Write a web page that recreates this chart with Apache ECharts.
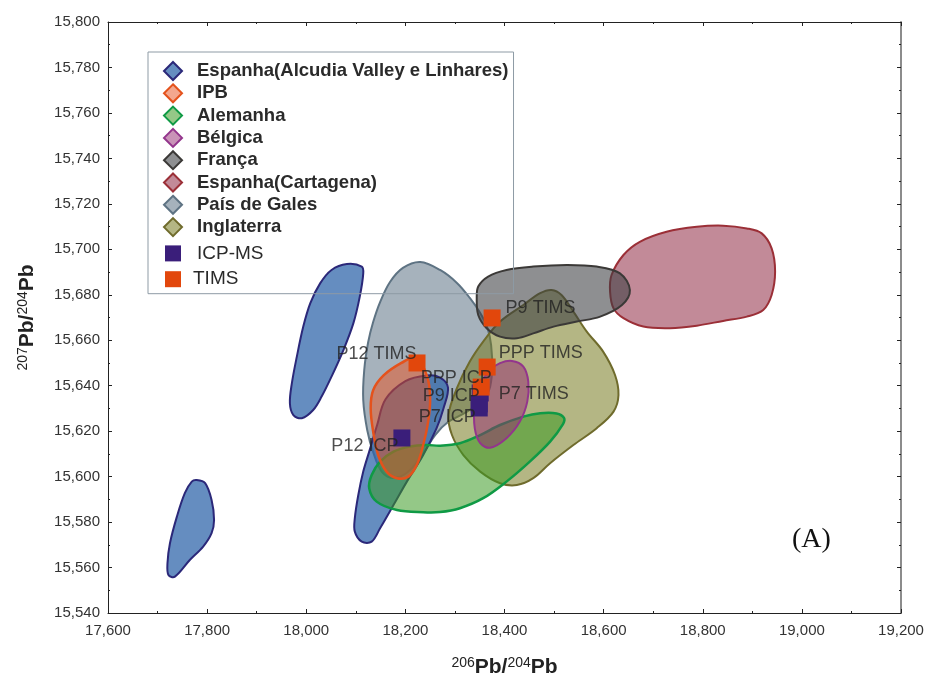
<!DOCTYPE html>
<html>
<head>
<meta charset="utf-8">
<script src="https://cdn.jsdelivr.net/npm/echarts@6/dist/echarts.min.js"></script>
<style>
html,body{margin:0;padding:0;background:#fff;}
#chart{width:927px;height:684px;}
</style>
</head>
<body>
<div id="chart"></div>
<script>
// ---------- DATA (206Pb/204Pb, 207Pb/204Pb) ----------
const xMin = 17.6, xMax = 19.2, xStep = 0.2;
const yMin = 15.54, yMax = 15.80, yStep = 0.02;

// Espanha (Alcudia Valley e Linhares) - three fields
const espanhaAlcudiaA = [[18.082,15.6935],[18.112,15.6924],[18.115,15.6894],[18.108,15.6792],[18.095,15.6674],[18.075,15.6557],[18.051,15.6440],[18.031,15.6352],[18.014,15.6293],[17.991,15.6257],[17.974,15.6271],[17.967,15.6323],[17.971,15.6411],[17.981,15.6528],[17.994,15.6660],[18.008,15.6762],[18.028,15.6850],[18.051,15.6909]];
const espanhaAlcudiaB = [[17.779,15.5985],[17.796,15.5971],[17.809,15.5897],[17.814,15.5809],[17.809,15.5751],[17.792,15.5692],[17.765,15.5633],[17.735,15.5560],[17.722,15.5567],[17.720,15.5619],[17.725,15.5707],[17.739,15.5824],[17.755,15.5927],[17.769,15.5978]];
const espanhaAlcudiaC = [[18.270,15.6436],[18.286,15.6392],[18.277,15.6301],[18.263,15.6213],[18.236,15.6095],[18.203,15.5978],[18.176,15.5875],[18.149,15.5773],[18.132,15.5714],[18.112,15.5714],[18.098,15.5758],[18.098,15.5817],[18.105,15.5919],[18.115,15.6022],[18.127,15.6110],[18.143,15.6227],[18.160,15.6340],[18.200,15.6420],[18.243,15.6445]];
const ipb = [[18.222,15.6525],[18.244,15.6440],[18.250,15.6345],[18.246,15.6242],[18.236,15.6139],[18.223,15.6051],[18.206,15.6000],[18.183,15.5993],[18.162,15.6022],[18.145,15.6095],[18.135,15.6198],[18.130,15.6301],[18.135,15.6380],[18.156,15.6445],[18.192,15.6500]];
const alemanha = [[18.243,15.6139],[18.270,15.6136],[18.310,15.6147],[18.351,15.6183],[18.391,15.6227],[18.438,15.6264],[18.472,15.6279],[18.505,15.6278],[18.520,15.6258],[18.518,15.6231],[18.492,15.6154],[18.451,15.6066],[18.404,15.5978],[18.357,15.5905],[18.310,15.5861],[18.270,15.5844],[18.236,15.5843],[18.183,15.5853],[18.142,15.5890],[18.127,15.5949],[18.132,15.6007],[18.149,15.6066],[18.176,15.6110],[18.209,15.6132]];
const belgica = [[18.415,15.6509],[18.438,15.6484],[18.448,15.6418],[18.446,15.6330],[18.431,15.6242],[18.404,15.6169],[18.371,15.6127],[18.351,15.6147],[18.340,15.6213],[18.340,15.6315],[18.351,15.6403],[18.371,15.6469],[18.391,15.6499]];
const franca = [[18.344,15.6784],[18.347,15.6836],[18.367,15.6880],[18.404,15.6909],[18.458,15.6924],[18.526,15.6931],[18.586,15.6924],[18.633,15.6894],[18.653,15.6821],[18.637,15.6755],[18.593,15.6704],[18.546,15.6682],[18.499,15.6660],[18.458,15.6630],[18.425,15.6609],[18.391,15.6616],[18.364,15.6653],[18.347,15.6711]];
const espanhaCartagena = [[18.613,15.6814],[18.616,15.6887],[18.640,15.6975],[18.673,15.7033],[18.727,15.7077],[18.788,15.7099],[18.841,15.7104],[18.889,15.7092],[18.919,15.7070],[18.939,15.7004],[18.946,15.6902],[18.939,15.6799],[18.922,15.6733],[18.889,15.6704],[18.841,15.6685],[18.788,15.6664],[18.734,15.6653],[18.680,15.6660],[18.640,15.6697],[18.620,15.6740]];
const paisDeGales = [[18.230,15.6944],[18.270,15.6909],[18.304,15.6852],[18.330,15.6786],[18.351,15.6720],[18.365,15.6658],[18.373,15.6579],[18.375,15.6469],[18.369,15.6381],[18.351,15.6328],[18.320,15.6280],[18.286,15.6240],[18.260,15.6183],[18.234,15.6095],[18.205,15.6020],[18.177,15.5994],[18.153,15.6020],[18.135,15.6108],[18.123,15.6205],[18.115,15.6337],[18.117,15.6469],[18.125,15.6592],[18.135,15.6680],[18.149,15.6768],[18.169,15.6856],[18.195,15.6918]];
const inglaterra = [[18.495,15.6821],[18.515,15.6799],[18.539,15.6726],[18.566,15.6638],[18.599,15.6550],[18.623,15.6447],[18.630,15.6359],[18.620,15.6286],[18.586,15.6213],[18.539,15.6139],[18.492,15.6059],[18.458,15.5993],[18.425,15.5963],[18.391,15.5971],[18.351,15.6022],[18.317,15.6095],[18.294,15.6183],[18.287,15.6271],[18.304,15.6389],[18.330,15.6506],[18.357,15.6594],[18.391,15.6682],[18.438,15.6755],[18.472,15.6807]];

// Samples
const icpNames = ['P12 ICP', 'PPP ICP', 'P9 ICP', 'P7 ICP'];
const icpX = [18.193, 18.351, 18.349, 18.349];
const icpY = [15.617, 15.6368, 15.6320, 15.6302];
const timsNames = ['P9 TIMS', 'P12 TIMS', 'PPP TIMS', 'P7 TIMS'];
const timsX = [18.375, 18.2235, 18.365, 18.353];
const timsY = [15.6698, 15.650, 15.6482, 15.6394];

// ---------- PRESENTATION ----------
const FONT = "'Liberation Sans', Arial, Helvetica, sans-serif";
const labelPlacement = {
  'P9 TIMS':  ['right', 0, -10],
  'P12 TIMS': ['left', 13, -9],
  'PPP TIMS': ['right', -2, -14],
  'P7 TIMS':  ['right', 4, 7],
  'P12 ICP':  ['left', 10, 8],
  'PPP ICP':  ['left', 25, -15],
  'P9 ICP':   ['left', 14, -8],
  'P7 ICP':   ['left', 10, 9]
};
const regionStyle = {
  'Espanha(Alcudia Valley e Linhares)': {fill:'rgba(50,103,171,0.75)', stroke:'#2b2879', lw:2},
  'IPB':               {fill:'rgba(231,80,30,0.5)',  stroke:'#e4521c', lw:2.5},
  'Alemanha':          {fill:'rgba(61,155,37,0.55)', stroke:'#0f9a45', lw:2.5},
  'Bélgica':           {fill:'rgba(148,39,111,0.5)', stroke:'#93358c', lw:2},
  'França':            {fill:'rgba(60,62,65,0.58)',  stroke:'#3b3937', lw:2},
  'Espanha(Cartagena)':{fill:'rgba(144,42,68,0.55)', stroke:'#9b2f37', lw:2},
  'País de Gales':     {fill:'rgba(93,115,133,0.55)',stroke:'#5e7383', lw:2},
  'Inglaterra':        {fill:'rgba(119,122,31,0.55)',stroke:'#6f6b2c', lw:2}
};
const legendOrder = ['Espanha(Alcudia Valley e Linhares)','IPB','Alemanha','Bélgica','França','Espanha(Cartagena)','País de Gales','Inglaterra'];
const ICP_COLOR = '#3a1e7a', TIMS_COLOR = '#e2470c';

function regionSeries(name, pts) {
  const st = regionStyle[name];
  return {
    type: 'custom', name: name, data: pts, silent: true, animation: false,
    itemStyle: {color: st.fill, borderColor: st.stroke, borderWidth: 2},
    renderItem: function (params, api) {
      if (params.dataIndex !== 0) return null;
      const points = pts.map(function (p) { return api.coord(p); });
      return {type: 'polygon', shape: {points: points, smooth: 0.35},
              style: {fill: st.fill, stroke: st.stroke, lineWidth: st.lw}};
    }
  };
}
function pointData(names, xs, ys, withLabel) {
  return names.map(function (n, i) {
    const p = labelPlacement[n];
    const item = {name: n, value: [xs[i], ys[i]]};
    if (withLabel) item.label = {position: p[0], offset: [p[1], p[2]]};
    return item;
  });
}
const fmt = function (v) { return v.toFixed(3).replace('.', ','); };
const axisTitleRich = {
  sup: {fontSize: 14, fontFamily: FONT, color: '#222', verticalAlign: 'top', lineHeight: 23},
  b: {fontSize: 21, fontWeight: 'bold', fontFamily: FONT, color: '#222', lineHeight: 23}
};
const axisTitle = '{sup|206}{b|Pb/}{sup|204}{b|Pb}';
const axisTitleY = '{sup|207}{b|Pb/}{sup|204}{b|Pb}';

function mkX(primary) {
  return {
    type: 'value', min: xMin, max: xMax, interval: xStep, position: primary ? 'bottom' : 'top',
    axisLine: {show: true, onZero: false, lineStyle: {color: '#222', width: 1}},
    axisTick: {show: true, inside: true, length: 4, lineStyle: {color: '#222'}},
    minorTick: {show: true, splitNumber: 2, length: 2, lineStyle: {color: '#222'}},
    axisLabel: {show: primary, formatter: fmt, fontSize: 15, color: '#333', margin: 10, fontFamily: FONT},
    splitLine: {show: false},
    name: primary ? axisTitle : '', nameLocation: 'middle', nameGap: 43,
    nameTextStyle: {rich: axisTitleRich}
  };
}
function mkY(primary) {
  return {
    type: 'value', min: yMin, max: yMax, interval: yStep, position: primary ? 'left' : 'right',
    axisLine: {show: true, onZero: false, lineStyle: {color: primary ? '#222' : '#8c8c8c', width: primary ? 1 : 2}},
    axisTick: {show: true, inside: true, length: 4, lineStyle: {color: '#222'}},
    minorTick: {show: true, splitNumber: 2, length: 2, lineStyle: {color: '#222'}},
    axisLabel: {show: primary, formatter: fmt, fontSize: 15, color: '#333', margin: 8, fontFamily: FONT},
    splitLine: {show: false},
    name: primary ? axisTitleY : '', nameLocation: 'middle', nameGap: 69, nameRotate: 90,
    nameTextStyle: {rich: axisTitleRich}
  };
}

const diamondIcon = 'path://M9,0L18,9L9,18L0,9Z';
const squareIcon = 'path://M0,0M18,18M1,1L17,1L17,17L1,17Z';
const legendData = legendOrder.map(function (n) {
  const st = regionStyle[n];
  return {name: n, icon: diamondIcon, itemStyle: {color: st.fill, borderColor: st.stroke, borderWidth: 2}};
}).concat([
  {name: 'ICP-MS', icon: squareIcon, itemStyle: {color: ICP_COLOR, borderWidth: 0},
   textStyle: {fontWeight: 'normal', fontSize: 19, lineHeight: 28}},
  {name: 'TIMS', icon: squareIcon, itemStyle: {color: TIMS_COLOR, borderWidth: 0},
   textStyle: {fontWeight: 'normal', fontSize: 19, lineHeight: 18, padding: [0, 0, 0, 6]}}
]);

const labelBase = {show: true, formatter: '{b}', fontSize: 18, color: '#222', fontFamily: FONT, distance: 5};

const option = {
  animation: false,
  backgroundColor: '#fff',
  title: {text: '(A)', left: 792, top: 526, padding: 0,
          textStyle: {fontFamily: "'Liberation Serif', 'Times New Roman', serif", fontSize: 28, fontWeight: 'normal', color: '#111'}},
  grid: {left: 108, top: 22, width: 793, height: 591},
  xAxis: [mkX(true), mkX(false)],
  yAxis: [mkY(true), mkY(false)],
  legend: {
    orient: 'vertical', left: 148, top: 52, padding: [9, 5, 5, 15],
    itemWidth: 18, itemHeight: 18, itemGap: 2.3,
    borderColor: '#8e9ba5', borderWidth: 1, backgroundColor: 'transparent',
    selectedMode: false,
    textStyle: {fontFamily: FONT, fontSize: 18.5, lineHeight: 18, fontWeight: 'bold', color: '#2a2a2a', padding: [0, 0, 0, 10]},
    data: legendData
  },
  series: [
    regionSeries('Espanha(Alcudia Valley e Linhares)', espanhaAlcudiaA),
    regionSeries('Espanha(Alcudia Valley e Linhares)', espanhaAlcudiaB),
    regionSeries('País de Gales', paisDeGales),
    regionSeries('Espanha(Cartagena)', espanhaCartagena),
    regionSeries('Inglaterra', inglaterra),
    regionSeries('França', franca),
    regionSeries('Espanha(Alcudia Valley e Linhares)', espanhaAlcudiaC),
    regionSeries('Alemanha', alemanha),
    regionSeries('Bélgica', belgica),
    regionSeries('IPB', ipb),
    {type: 'scatter', name: 'ICP-MS', symbol: 'rect', symbolSize: 17, z: 5, silent: true,
     itemStyle: {color: ICP_COLOR, opacity: 1},
     data: pointData(icpNames, icpX, icpY, false)},
    {type: 'scatter', name: 'TIMS', symbol: 'rect', symbolSize: 17, z: 6, silent: true,
     itemStyle: {color: TIMS_COLOR, opacity: 1},
     data: pointData(timsNames, timsX, timsY, false)},
    // sample labels, drawn on top of all markers
    {type: 'scatter', name: 'sampleLabels', symbol: 'rect', symbolSize: 17, z: 10, silent: true,
     itemStyle: {color: 'rgba(0,0,0,0)'}, label: labelBase,
     data: pointData(icpNames, icpX, icpY, true).concat(pointData(timsNames, timsX, timsY, true))}
  ]
};
const chart = echarts.init(document.getElementById('chart'), null, {renderer: 'canvas'});
chart.setOption(option);
</script>
</body>
</html>
